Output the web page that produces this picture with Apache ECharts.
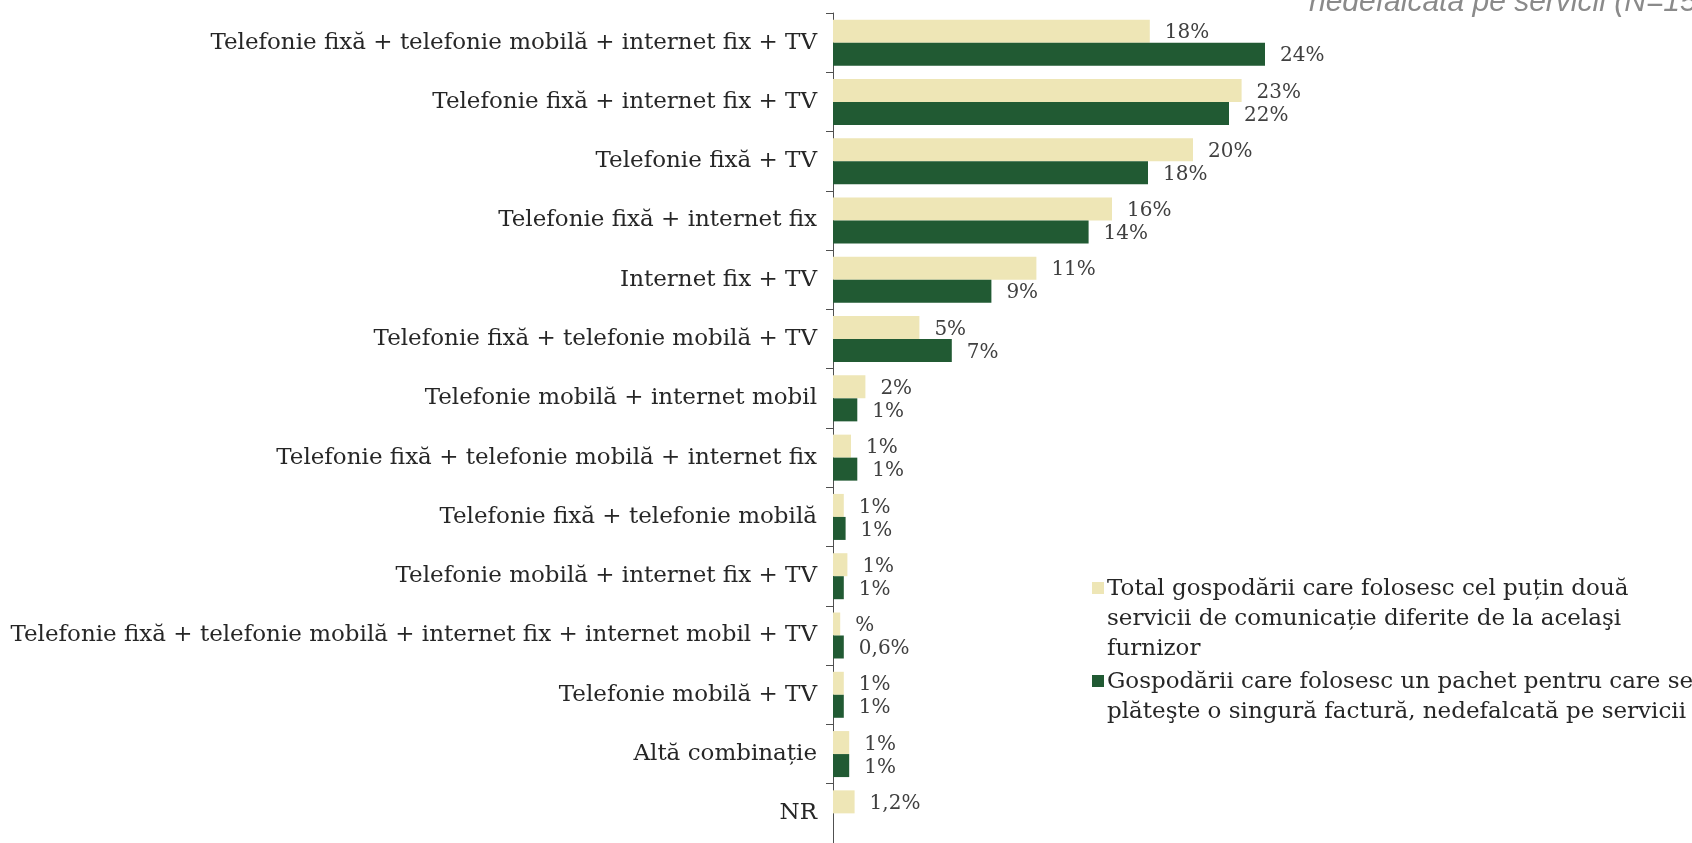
<!DOCTYPE html>
<html>
<head>
<meta charset="utf-8">
<script src="https://cdn.jsdelivr.net/npm/echarts@6/dist/echarts.min.js"></script>
<style>
  html, body { margin: 0; padding: 0; background: #ffffff; }
  #chart { width: 1692px; height: 843px; }
</style>
</head>
<body>
<div id="chart"></div>
<script>
// categorii (de sus in jos)
var categories = [
  'Telefonie fixă + telefonie mobilă + internet fix + TV',
  'Telefonie fixă + internet fix + TV',
  'Telefonie fixă + TV',
  'Telefonie fixă + internet fix',
  'Internet fix + TV',
  'Telefonie fixă + telefonie mobilă + TV',
  'Telefonie mobilă + internet mobil',
  'Telefonie fixă + telefonie mobilă + internet fix',
  'Telefonie fixă + telefonie mobilă',
  'Telefonie mobilă + internet fix + TV',
  'Telefonie fixă + telefonie mobilă + internet fix + internet mobil + TV',
  'Telefonie mobilă + TV',
  'Altă combinație',
  'NR'
]
var seriesNames = [
  'Total gospodării care folosesc cel puțin două\nservicii de comunicație diferite de la acelaşi\nfurnizor',
  'Gospodării care folosesc un pachet pentru care se\nplăteşte o singură factură, nedefalcată pe servicii'
]
// valori (%)
var totalValues = [17.6, 22.7, 20.0, 15.5, 11.3, 4.8, 1.8, 1.0, 0.6, 0.8, 0.4, 0.6, 0.9, 1.2]
var packageValues = [24.0, 22.0, 17.5, 14.2, 8.8, 6.6, 1.35, 1.35, 0.7, 0.6, 0.6, 0.6, 0.9, null]
// etichetele afisate langa bare
var totalLabels = ['18%', '23%', '20%', '16%', '11%', '5%', '2%', '1%', '1%', '1%', '%', '1%', '1%', '1,2%']
var packageLabels = ['24%', '22%', '18%', '14%', '9%', '7%', '1%', '1%', '1%', '1%', '0,6%', '1%', '1%', '']
var titleText = 'nedefalcată pe servicii (N=15'

var lightColor = '#EEE6B6'
var darkColor = '#215A33'
var serif = 'DejaVu Serif'

var myChart = echarts.init(document.getElementById('chart'))

var labelStyle = {
  show: true,
  position: 'right',
  distance: 15,
  offset: [0, 2],
  fontFamily: serif,
  fontSize: 20,
  color: '#404040'
}

var option = {
  animation: false,
  grid: {
    left: 833,
    top: 13,
    width: 810,
    height: 834
  },
  xAxis: {
    type: 'value',
    min: 0,
    max: 45,
    show: false
  },
  yAxis: {
    type: 'category',
    inverse: true,
    data: categories,
    axisLine: { show: true, lineStyle: { color: '#505050', width: 1 } },
    axisTick: { show: true, length: 7, lineStyle: { color: '#505050' } },
    axisLabel: {
      margin: 16,
      fontFamily: serif,
      fontSize: 23,
      color: '#262626'
    }
  },
  series: [
    {
      name: seriesNames[0],
      type: 'bar',
      data: totalValues,
      barWidth: 23,
      barGap: '0%',
      itemStyle: { color: lightColor },
      label: Object.assign({}, labelStyle, {
        formatter: function (p) { return totalLabels[p.dataIndex] }
      })
    },
    {
      name: seriesNames[1],
      type: 'bar',
      data: packageValues,
      barWidth: 23,
      barGap: '0%',
      itemStyle: { color: darkColor },
      label: Object.assign({}, labelStyle, {
        formatter: function (p) { return packageLabels[p.dataIndex] }
      })
    }
  ],
  graphic: [
    // titlul taiat sus-dreapta
    {
      type: 'text',
      left: 1309,
      top: -12,
      style: {
        text: titleText,
        fontFamily: 'Liberation Sans',
        fontStyle: 'italic',
        fontSize: 30,
        fill: '#8a8a8a'
      }
    },
    // legenda
    { type: 'rect', shape: { x: 1092, y: 582, width: 12, height: 12 }, style: { fill: lightColor } },
    {
      type: 'text', left: 1107, top: 574,
      style: { text: seriesNames[0], fontFamily: serif, fontSize: 23, lineHeight: 30, fill: '#262626' }
    },
    { type: 'rect', shape: { x: 1092, y: 675, width: 12, height: 12 }, style: { fill: darkColor } },
    {
      type: 'text', left: 1107, top: 667,
      style: { text: seriesNames[1], fontFamily: serif, fontSize: 23, lineHeight: 30, fill: '#262626' }
    }
  ]
}

myChart.setOption(option)
window.onresize = function () {
  myChart.resize()
}
</script>
</body>
</html>
